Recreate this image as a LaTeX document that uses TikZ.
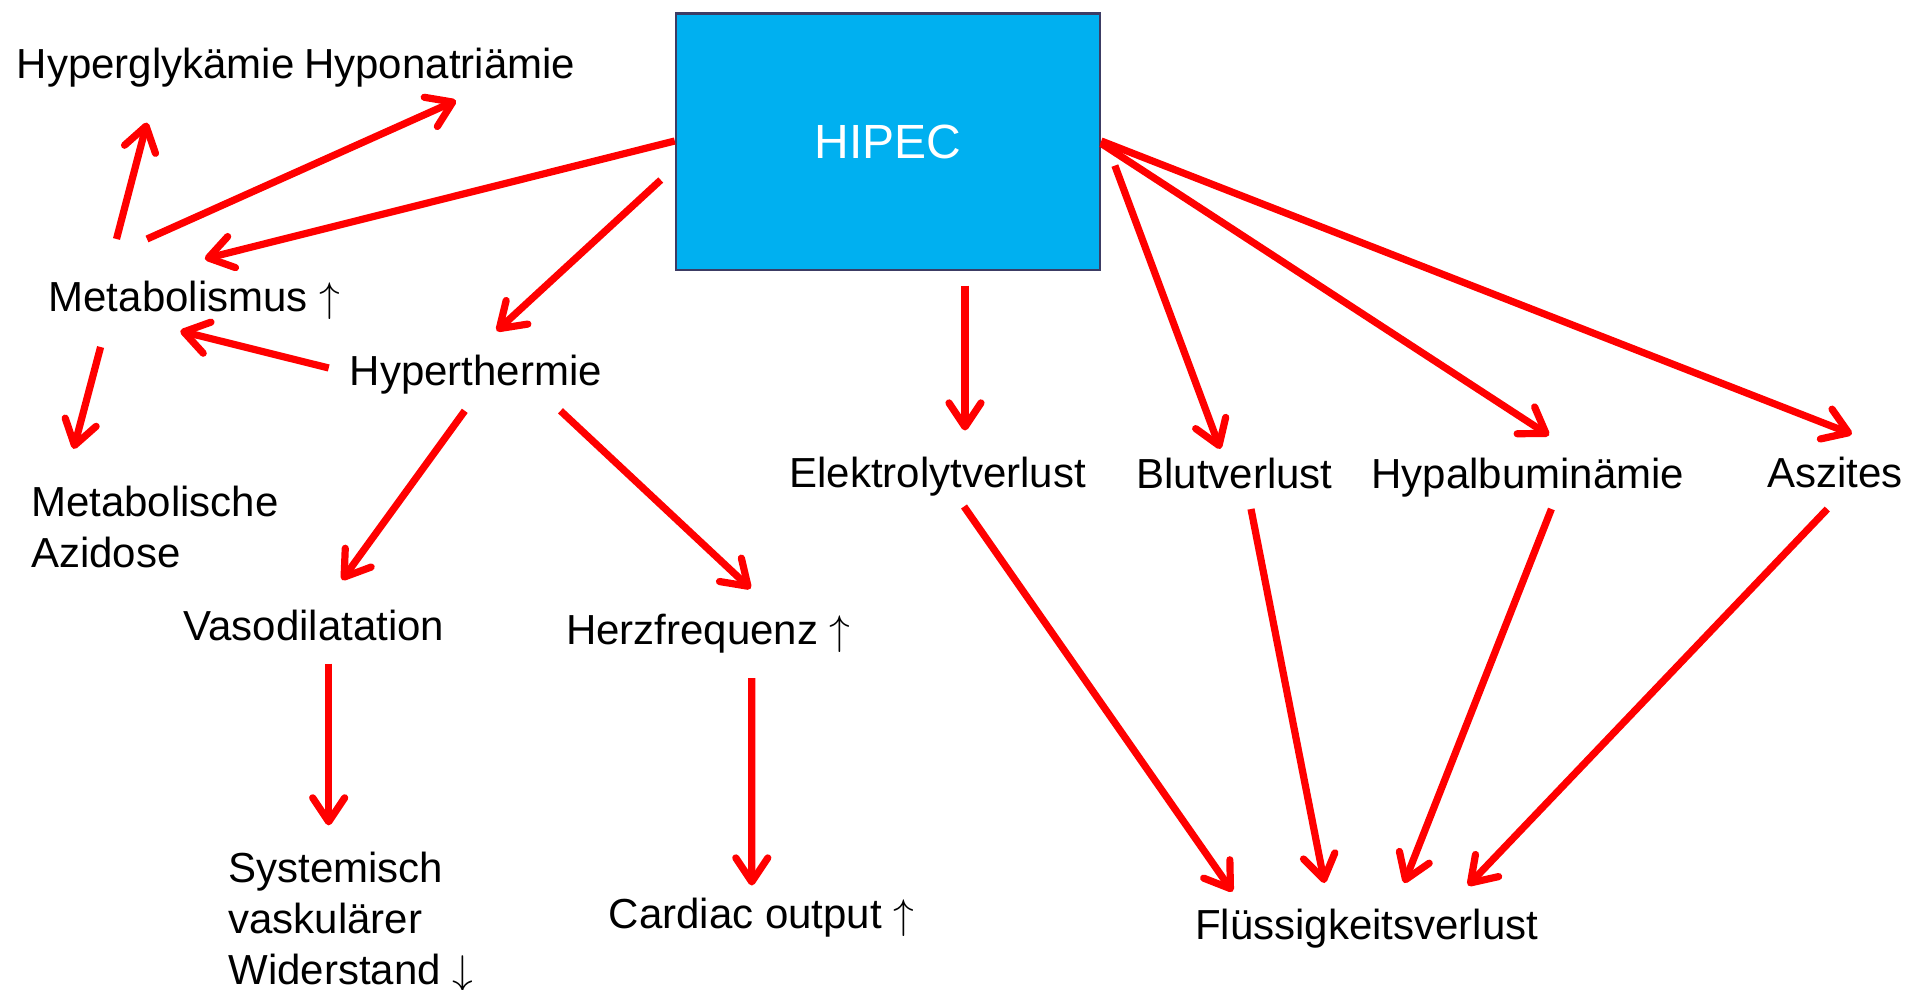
\documentclass[tikz,border=0pt]{standalone}
\usepackage{fontspec}
\setmainfont{Liberation Sans}
\usetikzlibrary{arrows.meta}
\definecolor{hipecblue}{RGB}{0,176,240}
\definecolor{hipecborder}{RGB}{60,60,100}
\begin{document}
\begin{tikzpicture}[x=0.5pt,y=-0.5pt,
  lbl/.style={inner sep=0pt, font=\fontsize{21}{25.5}\selectfont, text height=15pt, text depth=0pt},
  mlbl/.style={inner sep=0pt, font=\fontsize{21}{25.5}\selectfont, align=left, anchor=base west},
  arr/.style={draw=red, line width=3.6pt, -{Straight Barb[length=12pt,width=16pt,round]}}]
\useasboundingbox (0,0) rectangle (1923,990);

\node[draw=hipecborder, fill=hipecblue, line width=1.25pt, minimum width=212pt, minimum height=128.25pt,
      inner sep=0pt, text=white, font=\fontsize{24}{28}\selectfont, text height=17.2pt, text depth=0pt]
      (hipec) at (888,141.75) {HIPEC};

\node[lbl] (hg) at (155.7,63.8) {Hyperglykämie};
\node[lbl] (hn) at (439.7,63.8) {Hyponatriämie};
\node[lbl] (metab) at (194.4,296.8) {Metabolismus $\uparrow$};
\node[lbl] (hyper) at (475.8,370.4) {Hyperthermie};
\node[mlbl] (azid) at (30.7,567.6) {Metabolische\\Azidose};
\node[lbl] (vaso) at (314,625.5) {Vasodilatation};
\node[lbl] (herz) at (708.3,629) {Herzfrequenz $\uparrow$};
\node[mlbl] (sys) at (228,984) {Systemisch\\vaskulärer\\Widerstand $\downarrow$};
\node[lbl] (card) at (761.6,913.7) {Cardiac output $\uparrow$};
\node[lbl] (elek) at (937.6,472) {Elektrolytverlust};
\node[lbl] (blut) at (1234.4,473.4) {Blutverlust};
\node[lbl] (hypal) at (1528,473.4) {Hypalbuminämie};
\node[lbl] (asz) at (1834.7,472) {Aszites};
\node[lbl] (fl) at (1366.8,924.7) {Flüssigkeitsverlust};

\draw[arr] ([shift={(-77.9,-57.8)}]metab.center) -- ([shift={(-8.7,58.8)}]hg.center);
\draw[arr] ([shift={(-47.4,-57.8)}]metab.center) -- ([shift={(16.3,36.8)}]hn.center);
\draw[arr] ([shift={(0,-0.75)}]hipec.west) -- ([shift={(10.4,-38)}]metab.center);
\draw[arr] ([shift={(-14,38.25)}]hipec.west) -- ([shift={(20.9,-39.4)}]hyper.center);
\draw[arr] ([shift={(-147.1,-2.4)}]hyper.center) -- ([shift={(-14.1,34.2)}]metab.center);
\draw[arr] ([shift={(-93.8,50.2)}]metab.center) -- ([shift={(42.9,-118.7)}]azid.base west);
\draw[arr] ([shift={(-11,40.4)}]hyper.center) -- ([shift={(28,-45.5)}]vaso.center);
\draw[arr] ([shift={(84.7,40.4)}]hyper.center) -- ([shift={(42.3,-40.3)}]herz.center);
\draw[arr] ([shift={(14.7,38)}]vaso.center) -- ([shift={(100.7,-158.6)}]sys.base west);
\draw[arr] ([shift={(43.5,49.2)}]herz.center) -- ([shift={(-9.8,-28.2)}]card.center);
\draw[arr] ([shift={(77,143.95)}]hipec.center) -- ([shift={(27.4,-41.5)}]elek.center);
\draw[arr] ([shift={(13.6,23.85)}]hipec.east) -- ([shift={(-14.1,-24.5)}]blut.center);
\draw[arr] ([shift={(0,1.75)}]hipec.east) -- ([shift={(21,-38)}]hypal.center);
\draw[arr] ([shift={(0,-0.75)}]hipec.east) -- ([shift={(17.2,-37.9)}]asz.center);
\draw[arr] ([shift={(26.4,34.5)}]elek.center) -- ([shift={(-134.3,-33.1)}]fl.center);
\draw[arr] ([shift={(16.6,35.6)}]blut.center) -- ([shift={(-42.3,-41.7)}]fl.center);
\draw[arr] ([shift={(23.4,35.6)}]hypal.center) -- ([shift={(37.4,-41.7)}]fl.center);
\draw[arr] ([shift={(-7.4,37)}]asz.center) -- ([shift={(101.2,-39.2)}]fl.center);
\end{tikzpicture}
\end{document}
